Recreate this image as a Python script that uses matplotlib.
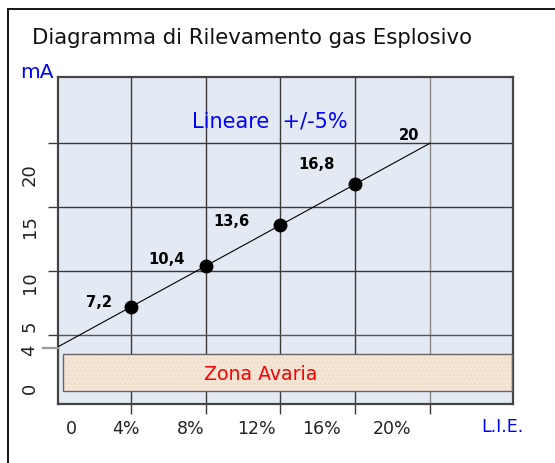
import matplotlib
matplotlib.use("Agg")
import matplotlib.pyplot as plt
from matplotlib.patches import Rectangle
import matplotlib.transforms as mtransforms

# ---- data ----
line_lie = [0, 20]            # % L.I.E.
line_ma = [4, 20]             # mA
point_lie = [4, 8, 12, 16]
point_ma = [7.2, 10.4, 13.6, 16.8]
point_labels = ["7,2", "10,4", "13,6", "16,8"]
end_label = "20"
x_grid = [4, 8, 12, 16, 20]
y_grid = [5, 10, 15, 20]
zero_ma = 4
x_tick_labels = ["0", "4%", "8%", "12%", "16%", "20%"]
x_label_pos = [0.84, 3.75, 7.22, 10.69, 14.22, 17.96]
y_tick_labels = ["0", "4", "5", "10", "15", "20"]
y_label_pos = [0.9, 3.87, 5.74, 9.16, 13.6, 17.6]
zone_x = [0.38, 24.37]
zone_y = [0.64, 3.53]

W, H = 555, 464
fig = plt.figure(figsize=(W / 100, H / 100), dpi=100)
fig.patch.set_facecolor("white")

# outer frame
fig.patches.append(Rectangle((8 / W, -0.2), 1.5, (H - 10) / H + 0.2,
                             transform=fig.transFigure, fill=False,
                             edgecolor="black", linewidth=1.3))

L, R, T, B = 58, 513, 78, 405
ax = fig.add_axes([L / W, 1 - B / H, (R - L) / W, (B - T) / H])
ax.set_facecolor("#e4eaf4")
ax.set_xlim(0.11, 24.43)
ax.set_ylim(-0.38, 25.17)

for s in ax.spines.values():
    s.set_color("#444444")
    s.set_linewidth(1.6)

# grid lines
for xv in x_grid:
    ax.axvline(xv, color="#888888" if xv == 20 else "#3a3a3a", lw=1.0, zorder=1)
for yv in y_grid:
    ax.axhline(yv, color="#555555" if yv == 5 else "#3a3a3a", lw=1.0, zorder=1)

# major ticks (marks only)
ax.set_xticks(x_grid)
ax.set_xticklabels([])
ax.set_yticks(y_grid)
ax.set_yticklabels([])
ax.tick_params(axis="x", which="major", direction="out", length=7, width=1.0, color="#3a3a3a")
ax.tick_params(axis="y", which="major", direction="out", length=7, width=1.0, color="#3a3a3a")

# 4 mA start tick (gray, longer)
trans = mtransforms.blended_transform_factory(ax.transAxes, ax.transData)
ax.plot([-15 / (R - L), 0], [zero_ma, zero_ma], transform=trans, color="#9a9a9a",
        lw=1.6, clip_on=False, zorder=4)

# label ticks (minor, no marks)
ax.set_xticks(x_label_pos, minor=True)
ax.set_xticklabels(x_tick_labels, minor=True, fontsize=12.5, color="#222222")
ax.set_yticks(y_label_pos, minor=True)
ax.set_yticklabels(y_tick_labels, minor=True, fontsize=13, color="#222222",
                   rotation=90, va="center")
ax.tick_params(axis="x", which="minor", length=0, pad=11)
ax.tick_params(axis="y", which="minor", length=0, pad=14)

# fault zone
ax.add_patch(Rectangle((zone_x[0], zone_y[0]), zone_x[1] - zone_x[0], zone_y[1] - zone_y[0],
                       facecolor="#f4e5d4", edgecolor="#eddccb", hatch="....",
                       linewidth=0, zorder=2))
ax.add_patch(Rectangle((zone_x[0], zone_y[0]), zone_x[1] - zone_x[0], zone_y[1] - zone_y[0],
                       fill=False, edgecolor="#666666", linewidth=1.0, zorder=3))
ax.text(sum(zone_x) / 2 - 1.45, sum(zone_y) / 2 - 0.05, "Zona Avaria", color="#ff0000",
        fontsize=13.6, ha="center", va="center", zorder=4)

# line and points
ax.plot(line_lie, line_ma, color="black", lw=0.8, zorder=5)
ax.plot(point_lie, point_ma, "o", color="black", markersize=9, zorder=6)

offsets = [(-32, 5), (-39, 8), (-49, 5), (-39, 21)]
bold = dict(fontsize=11.8, fontweight="bold", family=["Liberation Sans Narrow", "DejaVu Sans"],
            fontstretch="condensed", ha="center", va="center", color="#000000", zorder=7)
for x, y, lab, off in zip(point_lie, point_ma, point_labels, offsets):
    ax.annotate(lab, (x, y), xytext=off, textcoords="offset pixels", **bold)
ax.annotate(end_label, (line_lie[-1], line_ma[-1]), xytext=(-21, 9),
            textcoords="offset pixels", **bold)

ax.text(11.44, 21.8, "Lineare  +/-5%", color="#0000ff", fontsize=15,
        ha="center", va="center", zorder=7)

# figure texts
fig.text(32 / W, 1 - 38 / H, "Diagramma di Rilevamento gas Esplosivo", fontsize=15.3,
         color="#111111", ha="left", va="center")
fig.text(20 / W, 1 - 72 / H, "mA", fontsize=14.5, color="#0000ff", ha="left", va="center")
fig.text(502 / W, 1 - 427 / H, "L.I.E.", fontsize=12.5, color="#0000ff", ha="center", va="center")

fig.savefig("out.png", dpi=100)
